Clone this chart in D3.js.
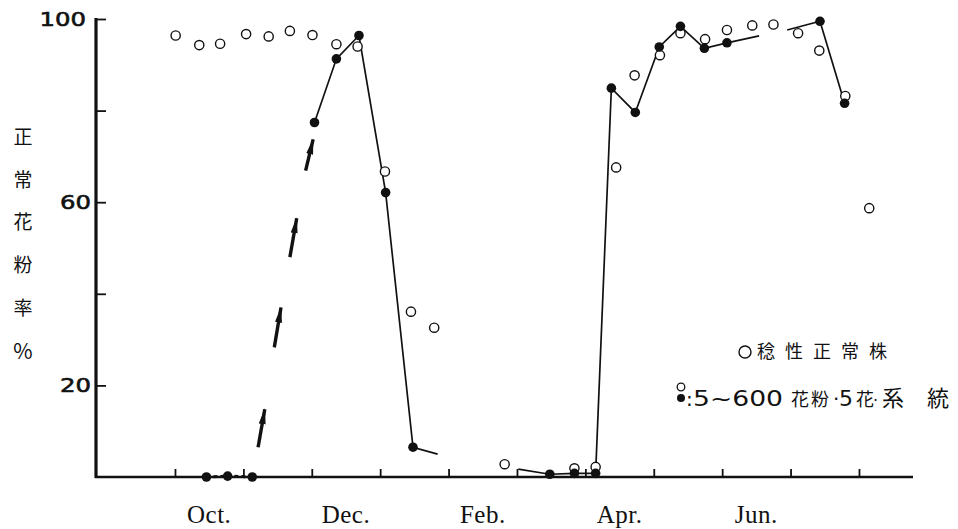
<!DOCTYPE html>
<html><head><meta charset="utf-8">
<script src="https://cdn.jsdelivr.net/npm/d3@7"></script>
<style>body{margin:0;background:#fff}</style>
</head><body>
<svg id="chart" width="958" height="529"></svg>
<script>
// x positions are months counted from Oct 1 (0 = Oct 1, 1 = Nov 1, ...)
const normalT = [0.01,0.355,0.66,1.04,1.37,1.68,2.01,2.36,2.67,3.07,3.45,3.79,4.82,5.84,6.15,6.45,6.72,7.09,7.39,7.75,8.07,8.44,8.75,9.11,9.42,9.80,10.15];
const normalV = [96.4,94.3,94.6,96.7,96.2,97.4,96.5,94.5,94.0,66.7,36.1,32.6,2.8,1.9,2.2,67.6,87.7,92.1,96.9,95.6,97.6,98.6,98.8,96.9,93.1,83.2,58.7];
const lineT = [0.46,0.77,1.13,2.04,2.36,2.69,3.08,3.48,5.48,5.84,6.15,6.38,6.73,7.08,7.39,7.74,8.07,9.43,9.79];
const lineV = [0,0.2,0,77.4,91.3,96.4,62.1,6.5,0.6,0.8,0.8,84.9,79.6,93.9,98.4,93.6,94.8,99.5,81.6];
// line pieces: index ranges into lineT/lineV, with short lead-in / tail stubs
const segOct    = {from:0,  to:2,  lead:null,        tail:null,        dashed:true};
const segWinter = {from:3,  to:7,  lead:null,        tail:[3.84,5.0],  dashed:false};
const segSpring = {from:8,  to:16, lead:[5.02,1.7],  tail:[8.54,96.3], dashed:false};
const segSummer = {from:17, to:18, lead:[8.95,97.6], tail:null,        dashed:false};
// arrows (start t, start v, end t, end v)
const arrowT0 = [1.215,1.452,1.68,1.91];
const arrowV0 = [6.5,28.3,48.0,66.9];
const arrowT1 = [1.313,1.55,1.78,2.02];
const arrowV1 = [14.8,37.0,56.5,73.7];
const monthTicks = [0,1,2,3,4,5,6,7,8,9,10];
const monthLabels = ["Oct.","Dec.","Feb.","Apr.","Jun."];
const monthLabelPos = [0.5,2.5,4.5,6.5,8.5];
const yTickValues = [20,40,60,80,100];
const yTickLabels = ["20","","60","","100"];
const yTitle = ["正","常","花","粉","率","%"];
const legendNormal = "稔性正常株";

const svg = d3.select("#chart");
const x = d3.scaleLinear().domain([-1.14,10.79]).range([97,913]);
const y = d3.scaleLinear().domain([0,100]).range([477,19]);

// y axis
const yAxis = svg.append("g").attr("transform","translate(96,0)")
  .call(d3.axisLeft(y).tickValues(yTickValues).tickSize(-10).tickSizeOuter(0)
    .tickPadding(5).tickFormat((d,i)=>yTickLabels[i]));
yAxis.select(".domain").remove();
yAxis.selectAll(".tick line").attr("stroke","#111").attr("stroke-width",1.8);
yAxis.selectAll(".tick text")
  .attr("font-family","DejaVu Sans, Liberation Sans, sans-serif")
  .attr("font-size",20).attr("fill","#111").attr("stroke","#111").attr("stroke-width",0.6)
  .attr("dx",(d,i)=>yTickLabels[i]==="100"?-5:0)
  .each(function(d,i){ const t=yTickLabels[i]; if(t) d3.select(this).attr("textLength", t.length*15.5).attr("lengthAdjust","spacingAndGlyphs"); });
svg.append("line").attr("x1",96).attr("x2",96).attr("y1",y(100)-1).attr("y2",y(0)+1)
  .attr("stroke","#111").attr("stroke-width",3.2);

// x axis
const xAxis = svg.append("g").attr("transform",`translate(0,${y(0)})`)
  .call(d3.axisBottom(x).tickValues(monthTicks).tickSize(-8).tickSizeOuter(0).tickFormat(""));
xAxis.select(".domain").remove();
xAxis.selectAll(".tick line").attr("stroke","#111").attr("stroke-width",1.8);
svg.append("line").attr("x1",x.range()[0]-2).attr("x2",x.range()[1]).attr("y1",y(0)).attr("y2",y(0))
  .attr("stroke","#111").attr("stroke-width",2.6);
svg.selectAll("text.mlab").data(monthLabels).join("text").attr("class","mlab")
  .attr("x",(d,i)=>x(monthLabelPos[i])).attr("y",523)
  .attr("text-anchor","middle").attr("font-family","Liberation Serif, serif")
  .attr("font-size",25).attr("letter-spacing",0.5).attr("fill","#111").text(d=>d);

// y title
svg.selectAll("text.ytitle").data(yTitle).join("text").attr("class","ytitle")
  .attr("x",23).attr("y",(d,i)=>137+i*42.8).attr("dy","0.36em")
  .attr("text-anchor","middle").attr("font-family","Noto Sans CJK JP, sans-serif")
  .attr("font-size",(d)=>d==="%"?21:19).attr("font-weight",400).attr("fill","#111").text(d=>d);

// lines
const lineGen = d3.line().x(d=>x(d[0])).y(d=>y(d[1]));
[segOct,segWinter,segSpring,segSummer].forEach(s=>{
  const pts=[];
  if(s.lead) pts.push(s.lead);
  for(let i=s.from;i<=s.to;i++) pts.push([lineT[i],lineV[i]]);
  if(s.tail) pts.push(s.tail);
  svg.append("path").attr("d",lineGen(pts)).attr("fill","none").attr("stroke","#111")
    .attr("stroke-width",s.dashed?3:1.7).attr("stroke-dasharray",s.dashed?"4,3":null);
});

// arrows
const defs = svg.append("defs");
defs.append("marker").attr("id","ah").attr("markerUnits","userSpaceOnUse")
  .attr("viewBox","0 0 16 8").attr("refX",15).attr("refY",4)
  .attr("markerWidth",16).attr("markerHeight",8).attr("orient","auto")
  .append("path").attr("d","M0,0.5 L16,4 L0,7.5 Z").attr("fill","#111");
svg.selectAll("line.arrow").data(arrowT0).join("line").attr("class","arrow")
  .attr("x1",(d,i)=>x(arrowT0[i])).attr("y1",(d,i)=>y(arrowV0[i]))
  .attr("x2",(d,i)=>x(arrowT1[i])).attr("y2",(d,i)=>y(arrowV1[i]))
  .attr("stroke","#111").attr("stroke-width",3.4).attr("marker-end","url(#ah)");

// open circles (normal fertile plants)
svg.selectAll("circle.norm").data(normalT).join("circle").attr("class","norm")
  .attr("cx",(d,i)=>x(normalT[i])).attr("cy",(d,i)=>y(normalV[i])).attr("r",4.6)
  .attr("fill","#fff").attr("stroke","#111").attr("stroke-width",1.4);
// filled circles (line)
svg.selectAll("circle.line").data(lineT).join("circle").attr("class","line")
  .attr("cx",(d,i)=>x(lineT[i])).attr("cy",(d,i)=>y(lineV[i])).attr("r",4.8)
  .attr("fill","#111");

// legend
const lg = svg.append("g");
lg.append("circle").attr("cx",745).attr("cy",352).attr("r",6).attr("fill","#fff")
  .attr("stroke","#111").attr("stroke-width",1.4);
lg.append("text").attr("x",757).attr("y",352).attr("dy","0.36em")
  .attr("font-family","Noto Sans CJK JP, sans-serif").attr("font-size",18)
  .attr("letter-spacing",10).attr("fill","#111").text(legendNormal);
lg.append("circle").attr("cx",681).attr("cy",387).attr("r",3.8).attr("fill","#fff")
  .attr("stroke","#111").attr("stroke-width",1.3);
lg.append("circle").attr("cx",681).attr("cy",398).attr("r",4).attr("fill","#111");
const t2 = lg.append("text").attr("y",400).attr("dy","0.36em").attr("fill","#111");
t2.append("tspan").attr("x",686).attr("font-family","DejaVu Sans, sans-serif").attr("font-size",20).text(":");
t2.append("tspan").attr("x",693).attr("font-family","DejaVu Sans, sans-serif").attr("font-size",21)
  .attr("textLength",90).attr("lengthAdjust","spacingAndGlyphs").text("5~600");
t2.append("tspan").attr("x",791).attr("font-family","Noto Sans CJK JP, sans-serif").attr("font-size",18).attr("letter-spacing",2).text("花粉");
t2.append("tspan").attr("x",833).attr("font-family","DejaVu Sans, sans-serif").attr("font-size",20).text("·");
t2.append("tspan").attr("x",839).attr("font-family","DejaVu Sans, sans-serif").attr("font-size",21)
  .attr("textLength",14).attr("lengthAdjust","spacingAndGlyphs").text("5");
t2.append("tspan").attr("x",856).attr("font-family","Noto Sans CJK JP, sans-serif").attr("font-size",18).text("花");
t2.append("tspan").attr("x",873).attr("font-family","DejaVu Sans, sans-serif").attr("font-size",16).text("·");
t2.append("tspan").attr("x",882).attr("font-family","Noto Sans CJK JP, sans-serif").attr("font-size",22).text("系");
t2.append("tspan").attr("x",927).attr("font-family","Noto Sans CJK JP, sans-serif").attr("font-size",22).text("統");
</script>
</body></html>
